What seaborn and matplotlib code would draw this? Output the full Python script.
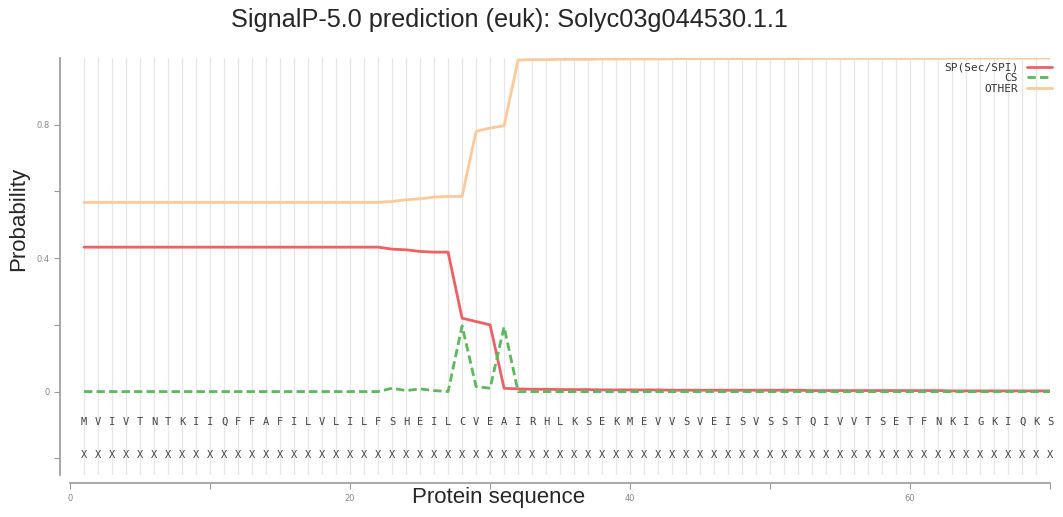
import matplotlib
matplotlib.use("Agg")
import matplotlib.pyplot as plt
import numpy as np
import pandas as pd
import seaborn as sns

# protein sequence (70 residues)
sequence = list("MVIVTNTKIIQFFAFILVLILFSHEILCVEAIRHLKSEKMEVVSVEISVSSTQIVVTSETFNKIGKIQKS")
positions = list(range(1, len(sequence) + 1))

# probabilities
sp = ([0.433] * 22
      + [0.427, 0.425, 0.420, 0.418, 0.418, 0.220, 0.210, 0.200, 0.010, 0.008]
      + [0.007, 0.007, 0.006, 0.006, 0.006, 0.005, 0.005, 0.005, 0.005, 0.005]
      + [0.004] * 10 + [0.003] * 10 + [0.002] * 8)
cs = ([0.0] * 22
      + [0.010, 0.003, 0.008, 0.003, 0.0, 0.197, 0.015, 0.010, 0.194, 0.0]
      + [0.0] * 38)
other = ([0.567] * 22
         + [0.570, 0.575, 0.578, 0.583, 0.585, 0.585, 0.780, 0.790, 0.797, 0.994]
         + [0.995, 0.995, 0.996, 0.996, 0.996, 0.997, 0.997, 0.997, 0.997, 0.997]
         + [0.998] * 10 + [0.999] * 10 + [1.0] * 8)

df = pd.DataFrame({
    "pos": positions * 3,
    "prob": sp + cs + other,
    "label": ["SP(Sec/SPI)"] * 70 + ["CS"] * 70 + ["OTHER"] * 70,
})

sns.set_style("white")

fig = plt.figure(figsize=(10.63, 5.17), dpi=100)
ax = fig.add_axes([0.0659, 0.0813, 0.922, 0.8065])

# residue grid lines
for p in positions:
    ax.axvline(p, color="#e6e6e6", lw=0.9, zorder=0)

palette = {"SP(Sec/SPI)": "#ef5f63", "CS": "#5cb85c", "OTHER": "#fdc99a"}
sns.lineplot(data=df, x="pos", y="prob", hue="label", style="label",
             palette=palette, dashes={"SP(Sec/SPI)": "", "CS": (3, 1.5), "OTHER": ""},
             linewidth=2, ax=ax, legend=True)

# sequence rows
for p, aa in zip(positions, sequence):
    ax.text(p, -0.09, aa, ha="center", va="center", fontsize=7.5,
            family="DejaVu Sans Mono", color="#444444")
    ax.text(p, -0.19, "X", ha="center", va="center", fontsize=7.5,
            family="DejaVu Sans Mono", color="#444444")

ax.set_xlim(0, 70)
ax.set_ylim(-0.25, 1.0)
ax.set_xticks(np.arange(0, 71, 10))
ax.set_xticklabels(["0", "", "20", "", "40", "", "60", ""])
ax.set_yticks([-0.2, 0, 0.2, 0.4, 0.6, 0.8])
ax.set_yticklabels(["", "0", "", "0.4", "", "0.8"])
ax.tick_params(axis="both", direction="out", length=4, width=0.8, color="#999999",
               labelsize=6, labelcolor="#888888", left=True, bottom=True)
for lab in ax.get_xticklabels() + ax.get_yticklabels():
    lab.set_family("DejaVu Serif")

for side in ["top", "right"]:
    ax.spines[side].set_visible(False)
ax.spines["left"].set_position(("outward", 7))
ax.spines["bottom"].set_position(("outward", 6))
for side in ["left", "bottom"]:
    ax.spines[side].set_color("#999999")
    ax.spines[side].set_linewidth(1.2)

ax.set_xlabel("Protein sequence", fontsize=16, family="Liberation Sans")
ax.xaxis.set_label_coords(0.437, -0.028)
ax.set_ylabel("Probability", fontsize=16, family="Liberation Sans")
ax.yaxis.set_label_coords(-0.042, 0.615)

leg = ax.legend(loc="upper right", frameon=False, markerfirst=False,
                prop={"family": "DejaVu Sans Mono", "size": 8},
                handlelength=2.2, labelspacing=0.05, borderaxespad=0,
                bbox_to_anchor=(1.006, 1.0))
for t in leg.get_texts():
    t.set_color("#333333")
    t.set_ha("right")

fig.text(0.479, 0.962, "SignalP-5.0 prediction (euk): Solyc03g044530.1.1",
         fontsize=18.2, family="Liberation Sans", ha="center", va="center")

fig.savefig("out.png", dpi=100)
